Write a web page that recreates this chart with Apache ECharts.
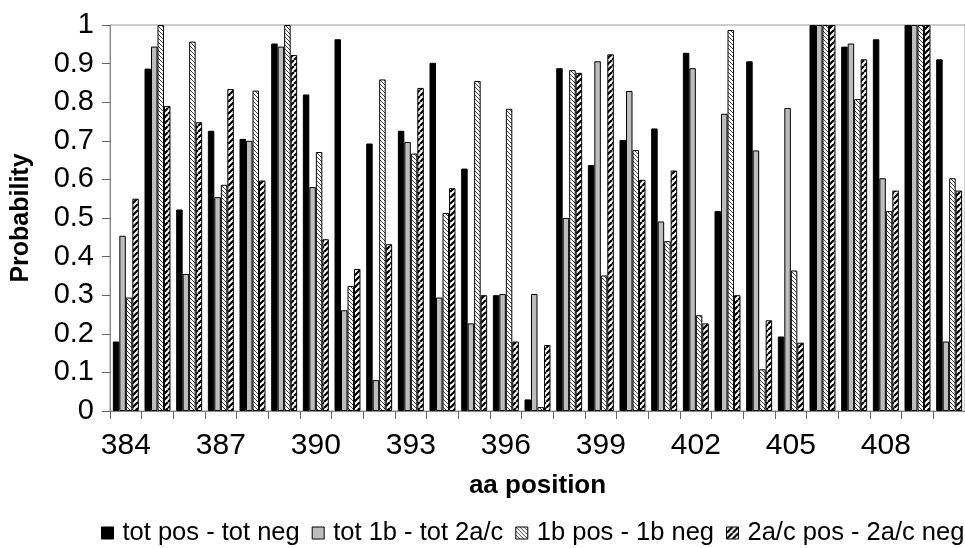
<!DOCTYPE html>
<html>
<head>
<meta charset="utf-8">
<script src="https://cdn.jsdelivr.net/npm/echarts@6/dist/echarts.min.js"></script>
<style>
html,body{margin:0;padding:0;background:#fff;}
#chart{width:965px;height:548px;}
</style>
</head>
<body>
<div id="chart"></div>
<script>
// ---- data ----
const categories = ['384','385','386','387','388','389','390','391','392','393','394','395','396','397','398','399','400','401','402','403','404','405','406','407','408','409','410'];
const seriesNames = ['tot pos - tot neg','tot 1b - tot 2a/c','1b pos - 1b neg','2a/c pos - 2a/c neg'];
const totPosNeg = [0.18,0.887,0.522,0.726,0.705,0.952,0.82,0.963,0.693,0.726,0.902,0.628,0.30,0.03,0.888,0.637,0.702,0.732,0.928,0.518,0.906,0.193,1.0,0.944,0.963,1.0,0.911];
const tot1b2ac = [0.454,0.944,0.355,0.554,0.70,0.944,0.58,0.261,0.08,0.697,0.294,0.227,0.303,0.303,0.50,0.906,0.829,0.491,0.888,0.77,0.675,0.785,1.0,0.952,0.603,1.0,0.18];
const b1PosNeg = [0.294,1.0,0.957,0.586,0.83,1.0,0.671,0.324,0.859,0.667,0.513,0.855,0.783,0.01,0.883,0.351,0.676,0.44,0.248,0.987,0.108,0.364,1.0,0.808,0.518,1.0,0.603];
const ac2PosNeg = [0.55,0.79,0.748,0.834,0.597,0.922,0.445,0.368,0.432,0.837,0.577,0.30,0.18,0.171,0.876,0.924,0.599,0.623,0.227,0.30,0.235,0.177,1.0,0.911,0.571,1.0,0.571];
const yTicks = [0,0.1,0.2,0.3,0.4,0.5,0.6,0.7,0.8,0.9,1];

// ---- patterns ----
function makePattern(size, lineW, dir, color) {
  const c = document.createElement('canvas');
  c.width = size; c.height = size;
  const g = c.getContext('2d');
  g.fillStyle = '#fff'; g.fillRect(0,0,size,size);
  g.strokeStyle = color; g.lineWidth = lineW;
  g.beginPath();
  for (let k = -1; k <= 1; k++) {
    if (dir === 'down') { // "\" lines
      g.moveTo(k*size, 0); g.lineTo(k*size + size, size);
    } else { // "/" lines
      g.moveTo(k*size, size); g.lineTo(k*size + size, 0);
    }
  }
  g.stroke();
  return c;
}
const pat1b = makePattern(4, 1, 'down', '#444');
const pat2ac = makePattern(6, 2.2, 'up', '#000');

const fills = ['#000', '#bdbdbd', {image: pat1b, repeat: 'repeat'}, {image: pat2ac, repeat: 'repeat'}];
const dataSets = [totPosNeg, tot1b2ac, b1PosNeg, ac2PosNeg];

const font = '"Liberation Sans", Arial, Helvetica, sans-serif';
const chart = echarts.init(document.getElementById('chart'), null, {renderer: 'canvas'});
chart.setOption({
  animation: false,
  backgroundColor: '#fff',
  grid: {left: 110, right: -5, top: 25, bottom: 137, show: true, borderColor: '#999', borderWidth: 1, backgroundColor: 'transparent'},
  legend: {
    left: 101, bottom: 2, width: 960, padding: 0,
    itemWidth: 12, itemHeight: 12, itemGap: 12,
    textStyle: {fontFamily: font, fontSize: 25.5, color: '#000', padding: [0,0,0,4]},
    data: seriesNames.map((n, i) => ({name: n, icon: 'rect', itemStyle: {borderColor: '#000', borderWidth: 1}}))
  },
  xAxis: {
    type: 'category',
    data: categories,
    name: 'aa position',
    nameLocation: 'middle',
    nameGap: 62,
    nameTextStyle: {fontFamily: font, fontSize: 26, fontWeight: 'bold', color: '#000'},
    axisLine: {lineStyle: {color: '#888', width: 1}},
    axisTick: {show: true, interval: 0, length: 8, lineStyle: {color: '#666'}},
    axisLabel: {interval: 2, fontFamily: font, fontSize: 30, color: '#000', margin: 20}
  },
  yAxis: {
    type: 'value',
    min: 0, max: 1, interval: 0.1,
    name: 'Probability',
    nameLocation: 'middle',
    nameGap: 76,
    nameTextStyle: {fontFamily: font, fontSize: 25, fontWeight: 'bold', color: '#000'},
    splitLine: {show: false},
    axisLine: {show: true, lineStyle: {color: '#888', width: 1}},
    axisTick: {show: true, length: 8, lineStyle: {color: '#666'}},
    axisLabel: {fontFamily: font, fontSize: 29, color: '#000', margin: 16,
      formatter: v => { const t = yTicks.find(x => Math.abs(x - v) < 1e-9); return t === undefined ? '' : String(t); }}
  },
  series: dataSets.map((d, i) => ({
    name: seriesNames[i],
    type: 'bar',
    data: d,
    barGap: '0%',
    barCategoryGap: '18%',
    itemStyle: {color: fills[i], borderColor: '#000', borderWidth: 1}
  }))
});
</script>
</body>
</html>
